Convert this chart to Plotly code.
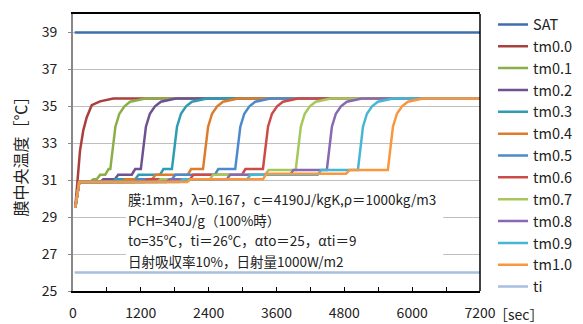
import plotly.graph_objects as go

# ---- data (time [sec], temperature [°C]) ----
t_sat = [30, 7200]
v_sat = [39.0, 39.0]
t_ti = [30, 7200]
v_ti = [26.0, 26.0]

t_tm00 = [40, 76, 124, 182, 242, 331, 478, 713, 7200]
v_tm00 = [29.5, 30.66, 32.6, 33.7, 34.4, 35.06, 35.27, 35.42, 35.42]

t_tm01 = [40, 110, 300, 360, 420, 480, 570, 630, 660, 695, 750, 820, 910, 1010, 1280, 7200]
v_tm01 = [29.5, 30.9, 30.9, 31.05, 31.05, 31.3, 31.3, 31.6, 31.6, 32.6, 33.9, 34.6, 35.0, 35.25, 35.42, 35.42]

t_tm02 = [40, 110, 480, 540, 740, 800, 1040, 1100, 1200, 1235, 1290, 1360, 1450, 1555, 1820, 7200]
v_tm02 = [29.5, 30.9, 30.9, 31.05, 31.05, 31.3, 31.3, 31.6, 31.6, 32.6, 33.9, 34.6, 35.0, 35.25, 35.42, 35.42]

t_tm03 = [40, 110, 690, 750, 1100, 1160, 1540, 1600, 1750, 1785, 1840, 1910, 2000, 2105, 2370, 7200]
v_tm03 = [29.5, 30.9, 30.9, 31.05, 31.05, 31.3, 31.3, 31.6, 31.6, 32.6, 33.9, 34.6, 35.0, 35.25, 35.42, 35.42]

t_tm04 = [40, 110, 870, 930, 1400, 1460, 2030, 2090, 2300, 2335, 2390, 2460, 2550, 2655, 2920, 7200]
v_tm04 = [29.5, 30.9, 30.9, 31.05, 31.05, 31.3, 31.3, 31.6, 31.6, 32.6, 33.9, 34.6, 35.0, 35.25, 35.42, 35.42]

t_tm05 = [40, 110, 1080, 1140, 1750, 1810, 2510, 2570, 2870, 2905, 2960, 3030, 3120, 3225, 3490, 7200]
v_tm05 = [29.5, 30.9, 30.9, 31.05, 31.05, 31.3, 31.3, 31.6, 31.6, 32.6, 33.9, 34.6, 35.0, 35.25, 35.42, 35.42]

t_tm06 = [40, 110, 1260, 1320, 2070, 2130, 2990, 3050, 3360, 3395, 3450, 3520, 3610, 3715, 3980, 7200]
v_tm06 = [29.5, 30.9, 30.9, 31.05, 31.05, 31.3, 31.3, 31.6, 31.6, 32.6, 33.9, 34.6, 35.0, 35.25, 35.42, 35.42]

t_tm07 = [40, 110, 1490, 1550, 2420, 2480, 3400, 3460, 3940, 3975, 4030, 4100, 4190, 4295, 4560, 7200]
v_tm07 = [29.5, 30.9, 30.9, 31.05, 31.05, 31.3, 31.3, 31.55, 31.55, 32.6, 33.9, 34.6, 35.0, 35.25, 35.42, 35.42]

t_tm08 = [40, 110, 1650, 1710, 2720, 2780, 3840, 3900, 4490, 4525, 4580, 4650, 4740, 4845, 5110, 7200]
v_tm08 = [29.5, 30.9, 30.9, 31.05, 31.05, 31.3, 31.3, 31.55, 31.55, 32.6, 33.9, 34.6, 35.0, 35.25, 35.42, 35.42]

t_tm09 = [40, 110, 1880, 1940, 3080, 3140, 4330, 4390, 5040, 5075, 5130, 5200, 5290, 5395, 5660, 7200]
v_tm09 = [29.5, 30.9, 30.9, 31.05, 31.05, 31.3, 31.3, 31.55, 31.55, 32.6, 33.9, 34.6, 35.0, 35.25, 35.42, 35.42]

t_tm10 = [40, 110, 2020, 2080, 3360, 3420, 4830, 4890, 5570, 5605, 5660, 5730, 5820, 5925, 6190, 7200]
v_tm10 = [29.5, 30.9, 30.9, 31.05, 31.05, 31.35, 31.35, 31.55, 31.55, 32.6, 33.9, 34.6, 35.0, 35.25, 35.42, 35.42]

names = ["SAT", "tm0.0", "tm0.1", "tm0.2", "tm0.3", "tm0.4", "tm0.5",
         "tm0.6", "tm0.7", "tm0.8", "tm0.9", "tm1.0", "ti"]
colors = ["#3F6EAB", "#A9403D", "#8CAE49", "#6F5192", "#2E9CB3", "#DE7C2B",
          "#4D8ACB", "#CC4B48", "#A6C75C", "#8868B0", "#47B6D3", "#F9963F", "#A7BEDF"]

x_tickvals = [0, 600, 1200, 1800, 2400, 3000, 3600, 4200, 4800, 5400, 6000, 6600, 7200]
x_ticktext = ["0", "", "1200", "", "2400", "", "3600", "", "4800", "", "6000", "", "7200"]
y_tickvals = [25, 27, 29, 31, 33, 35, 37, 39]

series_t = [t_sat, t_tm00, t_tm01, t_tm02, t_tm03, t_tm04, t_tm05,
            t_tm06, t_tm07, t_tm08, t_tm09, t_tm10, t_ti]
series_v = [v_sat, v_tm00, v_tm01, v_tm02, v_tm03, v_tm04, v_tm05,
            v_tm06, v_tm07, v_tm08, v_tm09, v_tm10, v_ti]

notes = ["膜:1mm，λ=0.167，c＝4190J/kgK,ρ＝1000kg/m3",
         "PCH=340J/g（100%時）",
         "to=35℃，ti＝26℃，αto＝25，αti＝9",
         "日射吸収率10%，日射量1000W/m2"]

FONT = "Noto Sans CJK JP"

fig = go.Figure()
for n, c, tt, vv in zip(names, colors, series_t, series_v):
    fig.add_trace(go.Scatter(x=tt, y=vv, mode="lines", name=n,
                             line=dict(color=c, width=2.5)))

# page body has an 8px margin, so the figure is sized/margined to compensate
fig.update_layout(
    width=575, height=316,
    margin=dict(l=65, r=103, t=6, b=33, autoexpand=False),
    paper_bgcolor="white", plot_bgcolor="white",
    font=dict(family=FONT, size=14, color="#222"),
    showlegend=True,
    legend=dict(x=1.032, y=1.02, xanchor="left", yanchor="top",
                font=dict(family=FONT, size=14.5, color="#222"),
                itemwidth=30, tracegroupgap=0, bgcolor="rgba(0,0,0,0)",
                maxheight=340),
    xaxis=dict(range=[0, 7200], tickvals=x_tickvals, ticktext=x_ticktext,
               ticks="inside", ticklen=4, tickcolor="black",
               showline=True, linecolor="black", linewidth=1.5, mirror=True,
               showgrid=False, zeroline=False, automargin=False,
               ticklabelstandoff=8,
               tickfont=dict(family=FONT, size=14, color="#222")),
    yaxis=dict(range=[25, 40], tickvals=y_tickvals,
               ticks="outside", ticklen=3, tickcolor="#888",
               showline=True, linecolor="#888", linewidth=2,
               showgrid=True, gridcolor="#BFBFBF", gridwidth=1.2,
               zeroline=False, automargin=False,
               ticklabelstandoff=8,
               title=dict(text="膜中央温度［℃］", standoff=12,
                          font=dict(family=FONT, size=16, color="#222")),
               tickfont=dict(family=FONT, size=14, color="#222")),
)

# right border
fig.add_shape(type="line", xref="x domain", yref="y domain",
              x0=1, x1=1, y0=0, y1=1, line=dict(color="black", width=1.5))
# white text box
fig.add_shape(type="rect", xref="x domain", yref="y domain",
              x0=0.13, x1=0.91, y0=0.085, y1=0.37,
              fillcolor="white", line=dict(width=0), layer="above")

ys = [0.332, 0.258, 0.183, 0.108]
for txt, yy in zip(notes, ys):
    fig.add_annotation(text=txt, xref="x domain", yref="y domain",
                       x=0.13, y=yy, xanchor="left", yanchor="middle",
                       showarrow=False,
                       font=dict(family=FONT, size=13.5, color="#222"))

fig.add_annotation(text="［sec］", xref="x domain", yref="paper",
                   x=1.03, y=0, yshift=-11, xanchor="left", yanchor="top",
                   showarrow=False,
                   font=dict(family=FONT, size=14, color="#222"))

fig.write_html("out.html")
